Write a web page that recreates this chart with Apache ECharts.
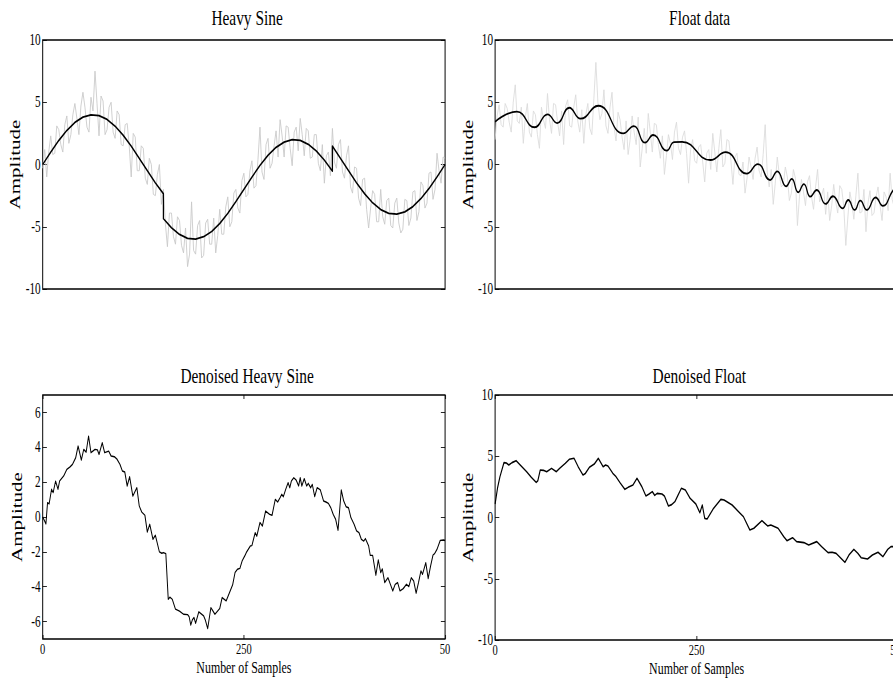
<!DOCTYPE html>
<html>
<head>
<meta charset="utf-8">
<title>Heavy Sine / Float data</title>
<script src="https://cdn.jsdelivr.net/npm/echarts@6/dist/echarts.min.js"></script>
<style>
  html, body { margin: 0; padding: 0; background: #fff; overflow: hidden; }
  #wrap { width: 893px; height: 687px; overflow: hidden; }
  /* the original figure is squeezed horizontally, so draw wider and scale down */
  #chart { width: 1275.7px; height: 687px; transform: scaleX(0.7); transform-origin: 0 0; }
</style>
</head>
<body>
<div id="wrap"><div id="chart"></div></div>
<script>
// samples 0..500, noisy signals read every 2.5 samples
const noiseStep = 2.5

const heavySineNoisy = [
  -0.3, 1.2, -1.0, 1.0, 2.3, 0.8, 0.9, 3.1, 2.8, 1.6,
  1.0, 3.2, 3.9, 1.7, 2.4, 4.0, 4.9, 3.7, 2.4, 4.7,
  5.8, 4.6, 3.0, 2.6, 5.4, 4.3, 7.5, 4.9, 2.3, 5.5,
  5.1, 2.4, 2.8, 4.6, 5.0, 2.6, 2.1, 4.3, 4.0, 1.6,
  1.5, 3.2, 3.3, 1.5, -1.0, 2.5, 2.2, -0.5, -0.5, 1.5,
  1.3, -1.1, -1.6, 0.5, 0.0, -2.4, -2.5, -0.8, 0.0, -3.2,
  -2.0, -4.8, -6.6, -3.9, -3.9, -5.8, -6.4, -4.2, -4.5, -6.5,
  -7.1, -5.1, -8.2, -7.2, -3.0, -6.9, -7.2, -4.9, -4.5, -7.5,
  -7.3, -4.7, -4.4, -6.4, -6.4, -4.3, -7.1, -5.7, -3.6, -5.6,
  -5.6, -3.4, -2.6, -5.0, -4.6, -2.3, -2.0, -3.5, -3.9, -1.3,
  -0.7, -2.6, -2.4, -0.5, 0.3, -1.9, -1.7, 0.4, 3.0, -0.6,
  -1.2, 1.6, 2.1, -0.3, 0.1, 1.5, 2.7, 0.6, 3.6, 2.3,
  0.6, 3.1, 3.0, 1.3, -0.1, 2.6, 3.0, 1.1, 3.7, 2.4,
  0.7, 2.9, 2.7, 0.5, 0.6, 2.4, 2.4, 0.1, -0.5, 1.6,
  -1.5, 0.7, 1.0, -0.9, 2.9, 0.2, -0.3, 1.6, 2.0, -0.6,
  -1.1, 0.7, 1.5, -1.8, -2.3, -0.2, -0.3, -2.7, -3.3, -1.2,
  -1.1, -3.6, -5.1, -3.5, -2.1, -2.4, -4.6, -4.6, -2.0, -4.2,
  -4.8, -2.9, -2.7, -4.9, -5.1, -3.1, -2.7, -4.7, -5.5, -5.2,
  -2.8, -2.9, -4.9, -4.3, -2.2, -2.1, -4.5, -3.8, -1.4, -1.7,
  -3.5, -3.1, -0.7, -0.6, -2.8, -2.0, 0.9, -0.5, -1.5, 0.6,
  0.5
]

const heavySine = [
  [0, 0], [10, 0.99], [20, 1.93], [30, 2.74], [40, 3.38], [50, 3.8], [60, 3.99],
  [70, 3.93], [80, 3.62], [90, 3.08], [100, 2.35], [110, 1.47], [120, 0.5],
  [130, -0.5], [140, -1.47], [150, -2.35], [150, -4.35], [160, -5.08], [170, -5.62],
  [180, -5.93], [190, -5.99], [200, -5.8], [210, -5.38], [220, -4.74], [230, -3.93],
  [240, -2.99], [250, -2.0], [260, -1.01], [270, -0.07], [280, 0.74], [290, 1.38],
  [300, 1.8], [310, 1.99], [320, 1.93], [330, 1.62], [340, 1.08], [350, 0.35],
  [360, -0.53], [360, 1.47], [370, 0.5], [380, -0.5], [390, -1.47], [400, -2.35],
  [410, -3.08], [420, -3.62], [430, -3.93], [440, -3.99], [450, -3.8], [460, -3.38],
  [470, -2.74], [480, -1.93], [490, -0.99], [500, 0]
]

const floatNoisy = [
  2.0, 3.9, 4.8, 3.2, 3.0, 4.9, 4.5, 3.4, 2.6, 5.0,
  6.4, 3.5, 3.3, 4.6, 1.7, 3.8, 4.9, 2.6, 2.2, 4.3,
  4.0, 2.4, 1.3, 4.6, 3.6, 2.9, 5.7, 3.6, 2.5, 4.9,
  4.8, 3.4, 2.3, 4.3, 1.6, 4.7, 5.2, 3.1, 3.0, 4.6,
  5.6, 3.5, 2.6, 4.4, 1.7, 4.0, 4.9, 2.9, 2.4, 5.3,
  8.2, 5.0, 3.6, 4.1, 6.0, 3.1, 2.5, 4.6, 5.8, 3.0,
  1.9, 4.2, 3.6, 2.2, 1.2, 3.5, 0.8, 2.0, 3.9, 2.6,
  1.6, 3.8, -0.2, 1.3, 2.9, 0.9, 4.1, 2.6, 1.0, 3.3,
  3.2, 1.6, 0.5, 2.3, -0.8, 0.7, 2.4, 1.7, 0.4, 2.6,
  3.4, 1.3, 0.8, 2.2, 2.7, 0.9, -1.5, 1.2, 2.0, 0.3,
  0.1, 1.4, 1.6, 0.2, -1.4, 0.9, 1.2, -0.4, 2.5, 1.0,
  -0.6, 1.3, 2.8, -0.2, 0.1, 2.0, 1.9, 0.3, -1.6, 0.6,
  0.9, -0.8, -0.9, 0.2, -2.3, -1.1, 0.6, -0.2, -1.2, 0.5,
  1.4, -0.5, -1.0, 0.8, 3.2, -0.6, -1.8, -0.4, -3.2, -1.5,
  0.6, -0.8, -1.8, -1.6, -0.2, -1.0, -2.9, -2.3, -0.4, -1.1,
  -4.9, -2.6, -1.2, -2.2, -3.3, -1.4, -0.9, -2.6, -3.6, -1.8,
  -0.4, -3.0, -2.5, -1.9, -4.0, -2.2, -4.5, -3.3, -1.6, -3.0,
  -3.9, -1.7, -2.0, -3.4, -6.5, -4.3, -2.2, -3.1, -4.4, -2.5,
  -0.7, -3.9, -3.8, -2.0, -5.4, -3.1, -2.1, -4.1, -3.9, -2.6,
  -1.8, -3.3, -4.5, -2.2, -2.6, -3.7, -0.7, -2.8, -3.4, -1.5,
  1.0
]

const floatSmooth = [
  [0, 3.44], [27, 4.24], [49, 2.99], [65, 4.03], [77, 3.33], [92, 4.56], [106, 3.68],
  [128, 4.72], [159, 2.5], [172, 3.09], [186, 1.75], [196, 2.37], [213, 1.11],
  [222, 1.8], [232, 1.82], [267, 0.36], [286, 1.0], [312, -0.73], [326, 0.03],
  [341, -1.25], [350, -0.55], [361, -1.75], [368, -1.16], [376, -2.23], [383, -1.57],
  [391, -2.58], [399, -2.05], [410, -3.17], [419, -2.55], [431, -3.52], [438, -2.85],
  [446, -3.65], [453, -2.9], [461, -3.65], [472, -2.65], [481, -3.32], [494, -2.05],
  [500, -1.85]
]

const denoisedHeavySine = [
  [0, 0.0], [2, -0.2], [4, -0.4], [6, 0.82], [8, 0.75], [11, 1.59], [13, 1.4], [16, 2.06],
  [19, 1.59], [21, 2.06], [26, 2.35], [30, 2.73], [34, 2.88], [37, 3.02], [41, 3.4],
  [44, 4.07], [48, 3.27], [51, 3.88], [54, 3.72], [57, 4.64], [60, 3.69], [65, 3.88],
  [68, 3.85], [70, 3.59], [74, 4.26], [77, 3.69], [82, 3.78], [85, 3.5], [89, 3.46],
  [92, 3.34], [96, 3.02], [99, 2.64], [102, 2.58], [105, 1.78], [108, 2.31], [112, 1.2],
  [117, 1.68], [120, 0.63], [123, 0.29], [127, 0.1], [130, -0.86], [133, -0.42],
  [137, -1.28], [140, -1.05], [145, -2.0], [148, -2.08], [150, -2.04], [153, -2.1],
  [156, -4.72], [158, -4.6], [161, -4.72], [165, -5.29], [170, -5.4], [175, -5.58],
  [180, -5.6], [182, -5.73], [184, -6.2], [186, -5.9], [188, -5.77], [190, -6.1],
  [194, -5.44], [200, -5.67], [202, -5.9], [205, -6.4], [209, -5.2], [211, -5.35],
  [214, -5.58], [220, -5.25], [223, -4.62], [228, -4.81], [233, -4.24], [236, -3.9],
  [239, -3.19], [242, -3.0], [245, -2.95], [248, -2.5], [251, -2.24], [253, -2.04],
  [258, -1.66], [260, -1.64], [264, -0.9], [266, -1.1], [270, -0.32], [273, -0.52],
  [277, 0.34], [282, 0.15], [285, 0.1], [289, 1.01], [292, 0.86], [295, 1.11],
  [297, 1.3], [299, 1.16], [302, 1.59], [305, 1.97], [307, 1.68], [309, 2.06],
  [312, 2.25], [315, 2.12], [318, 1.78], [320, 2.25], [322, 1.78], [325, 2.2],
  [328, 1.78], [330, 1.93], [333, 1.68], [335, 1.87], [338, 1.17], [341, 1.68],
  [345, 1.55], [349, 0.92], [352, 0.86], [355, 0.78], [358, 0.53], [361, 0.15],
  [364, -0.13], [367, -0.76], [371, 1.55], [374, 0.92], [377, 0.59], [380, 0.53],
  [383, -0.04], [387, -0.42], [390, -0.8], [393, -0.9], [396, -1.28], [399, -1.38],
  [401, -1.24], [405, -1.66], [407, -2.2], [410, -2.2], [414, -3.34], [417, -2.46],
  [420, -3.19], [422, -2.98], [425, -3.76], [429, -3.48], [432, -3.86], [435, -4.24],
  [438, -3.86], [441, -3.76], [444, -4.24], [448, -4.11], [452, -3.86], [455, -3.99],
  [458, -3.48], [461, -3.67], [464, -4.37], [467, -3.76], [470, -3.09], [472, -3.29],
  [476, -2.62], [479, -3.53], [482, -2.81], [485, -2.18], [487, -2.1], [490, -1.85],
  [494, -1.34], [498, -1.32], [500, -1.35]
]

const denoisedFloat = [
  [0, 1.1], [3, 2.4], [6, 3.33], [11, 4.48], [14, 4.45], [17, 4.29], [21, 4.48],
  [26, 4.64], [31, 4.29], [39, 3.74], [45, 3.28], [51, 2.87], [53, 3.0], [56, 3.88],
  [60, 3.85], [64, 3.74], [70, 4.01], [76, 3.74], [80, 4.01], [87, 4.42], [92, 4.75],
  [98, 4.83], [103, 4.15], [109, 3.47], [112, 3.6], [117, 4.1], [123, 4.36], [128, 4.83],
  [134, 4.15], [137, 4.29], [140, 4.2], [146, 3.61], [150, 3.33], [155, 2.84], [161, 2.3],
  [165, 2.46], [171, 2.65], [176, 3.2], [182, 2.52], [187, 1.76], [191, 1.92], [195, 2.11],
  [198, 1.81], [201, 1.97], [207, 1.92], [210, 1.76], [215, 0.94], [219, 1.05], [223, 1.29],
  [227, 1.84], [231, 2.38], [236, 2.24], [242, 1.56], [249, 1.1], [254, 0.39], [257, 1.02],
  [260, -0.07], [263, -0.12], [271, 0.75], [280, 1.48], [284, 1.43], [294, 1.02],
  [304, 0.34], [308, 0.07], [316, -1.02], [321, -0.88], [331, -0.26], [338, -0.69],
  [342, -0.61], [351, -0.88], [358, -1.56], [362, -1.89], [369, -1.65], [374, -1.97],
  [383, -2.05], [389, -2.24], [399, -1.97], [405, -2.38], [413, -2.87], [418, -2.84],
  [423, -2.93], [434, -3.66], [439, -3.06], [445, -2.6], [450, -2.93], [454, -3.28],
  [462, -3.39], [468, -3.06], [475, -2.84], [481, -3.2], [487, -2.6], [491, -2.38],
  [494, -2.38], [500, -2.3]
]

const xTickLabelsLeft = { 0: '0', 250: '250', 500: '50' }
const xTickLabelsRight = { 0: '0', 250: '250', 500: '500' }
const yTicksDenoisedSine = [-6, -4, -2, 0, 2, 4, 6]

const FONT = 'Liberation Serif'

function withX(values) {
  return values.map((v, i) => [i * noiseStep, v])
}

function grid(left, width, top, height) {
  return {
    left, width, top, height,
    show: true, borderColor: '#000', borderWidth: 1.4, backgroundColor: '#fff',
    containLabel: false, outerBoundsMode: 'none'
  }
}

function bottomAxis(gi, labels) {
  return {
    type: 'value', gridIndex: gi, min: 0, max: 500, interval: 250,
    axisLine: { show: false, onZero: false }, splitLine: { show: false },
    axisTick: { show: !!labels, inside: true, length: 4, lineStyle: { color: '#000' } },
    axisLabel: {
      show: !!labels, color: '#000', fontFamily: FONT, fontSize: 15, margin: 2,
      showMinLabel: true, showMaxLabel: true,
      formatter: v => (labels ? labels[v] : '')
    },
    name: labels ? 'Number of Samples' : '', nameLocation: 'middle', nameGap: 20,
    nameTextStyle: { color: '#000', fontFamily: FONT, fontSize: 17 }
  }
}

function topAxis(gi) {
  return {
    type: 'value', gridIndex: gi, position: 'top', min: 0, max: 500, interval: 250,
    axisLine: { show: false, onZero: false }, splitLine: { show: false }, axisLabel: { show: false },
    axisTick: { inside: true, length: 4, lineStyle: { color: '#000' } }
  }
}

function leftAxis(gi, min, max, interval, custom) {
  const ax = {
    type: 'value', gridIndex: gi, min, max,
    axisLine: { show: false, onZero: false }, splitLine: { show: false },
    axisTick: { inside: true, length: 6, lineStyle: { color: '#000' } },
    axisLabel: { color: '#000', fontFamily: FONT, fontSize: 16, margin: 3, showMinLabel: true, showMaxLabel: true },
    name: 'Amplitude', nameLocation: 'middle', nameGap: 26, nameRotate: 90,
    nameTextStyle: { color: '#000', fontFamily: FONT, fontSize: 21 }
  }
  if (custom) {
    ax.axisTick.customValues = custom
    ax.axisLabel.customValues = custom
  } else {
    ax.interval = interval
  }
  return ax
}

function rightAxis(gi, min, max, interval, custom) {
  const ax = {
    type: 'value', gridIndex: gi, position: 'right', min, max,
    axisLine: { show: false, onZero: false }, splitLine: { show: false }, axisLabel: { show: false },
    axisTick: { inside: true, length: 6, lineStyle: { color: '#000' } }
  }
  if (custom) {
    ax.axisTick.customValues = custom
    ax.axisLabel.customValues = custom
  } else {
    ax.interval = interval
  }
  return ax
}

function title(text, left, top) {
  return {
    text, left, top, textAlign: 'center',
    textStyle: { color: '#000', fontFamily: FONT, fontSize: 22, fontWeight: 'normal' }
  }
}

function line(gi, data, color, width) {
  return {
    type: 'line', xAxisIndex: gi, yAxisIndex: gi, data,
    symbol: 'none', showSymbol: false, animation: false,
    lineStyle: { color, width, join: 'round' }
  }
}

const chart = echarts.init(document.getElementById('chart'), null, { renderer: 'svg' })

const floatSmoothLine = line(1, floatSmooth, '#000', 1.8)
floatSmoothLine.smooth = 0.5

chart.setOption({
  animation: false,
  backgroundColor: '#fff',
  title: [
    title('Heavy Sine', '27.27%', 1),
    title('Float data', '77.94%', 1),
    title('Denoised Heavy Sine', '27.27%', 359),
    title('Denoised Float', '77.9%', 359)
  ],
  grid: [
    grid('4.78%', '45.05%', 40, 249),
    grid('55.43%', '45.13%', 40, 249),
    grid('4.78%', '45.05%', 395, 244),
    grid('55.43%', '45.13%', 395, 245)
  ],
  xAxis: [
    bottomAxis(0, null),
    bottomAxis(1, null),
    bottomAxis(2, xTickLabelsLeft),
    bottomAxis(3, xTickLabelsRight),
    topAxis(2),
    topAxis(3)
  ],
  yAxis: [
    leftAxis(0, -10, 10, 5),
    leftAxis(1, -10, 10, 5),
    leftAxis(2, -7, 7, null, yTicksDenoisedSine),
    leftAxis(3, -10, 10, 5),
    rightAxis(0, -10, 10, 5),
    rightAxis(1, -10, 10, 5),
    rightAxis(2, -7, 7, null, yTicksDenoisedSine),
    rightAxis(3, -10, 10, 5)
  ],
  series: [
    line(0, withX(heavySineNoisy), '#c8c8c8', 1),
    line(0, heavySine, '#000', 1.8),
    line(1, withX(floatNoisy), '#dadada', 1),
    floatSmoothLine,
    line(2, denoisedHeavySine, '#000', 1.4),
    line(3, denoisedFloat, '#000', 1.6)
  ]
})
</script>
</body>
</html>
